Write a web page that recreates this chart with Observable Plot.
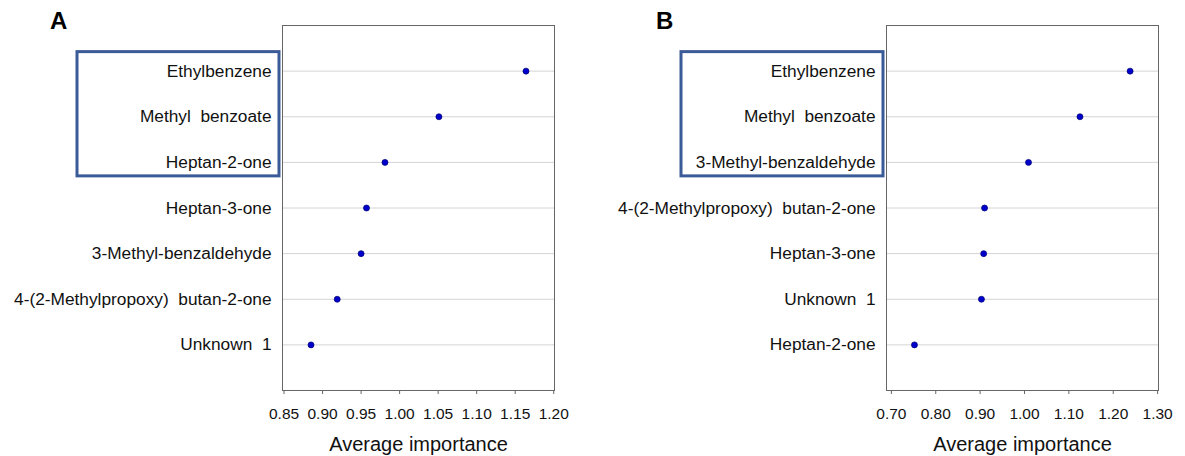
<!DOCTYPE html>
<html><head><meta charset="utf-8">
<script src="https://cdn.jsdelivr.net/npm/d3@7"></script>
<script src="https://cdn.jsdelivr.net/npm/@observablehq/plot@0.6"></script>
<style>
html,body{margin:0;padding:0;background:#fff;overflow:hidden}
#wrap{position:relative;width:1185px;height:456px;font-family:"Liberation Sans",Arial,sans-serif}
.panel{position:absolute;top:0}
</style></head><body><div id="wrap"></div>
<script>
// Panel A
const compoundsA = ["Ethylbenzene", "Methyl\u00a0 benzoate", "Heptan-2-one", "Heptan-3-one", "3-Methyl-benzaldehyde", "4-(2-Methylpropoxy)\u00a0 butan-2-one", "Unknown\u00a0 1"];
const importanceA = [1.164, 1.051, 0.981, 0.957, 0.950, 0.919, 0.885];
const ticksA = [0.85, 0.90, 0.95, 1.00, 1.05, 1.10, 1.15, 1.20];
const domainA = [0.848, 1.201];
// Panel B
const compoundsB = ["Ethylbenzene", "Methyl\u00a0 benzoate", "3-Methyl-benzaldehyde", "4-(2-Methylpropoxy)\u00a0 butan-2-one", "Heptan-3-one", "Unknown\u00a0 1", "Heptan-2-one"];
const importanceB = [1.238, 1.125, 1.009, 0.910, 0.908, 0.903, 0.752];
const ticksB = [0.70, 0.80, 0.90, 1.00, 1.10, 1.20, 1.30];
const domainB = [0.689, 1.302];
const highlightCount = 3;
const xLabel = "Average importance";

function panel({letter, names, values, ticks, domain, left, width, marginLeft, marginRight}) {
  const data = names.map((n, i) => ({name: n, value: values[i]}));
  const plot = Plot.plot({
    width, height: 456,
    marginLeft, marginRight, marginTop: 25, marginBottom: 66,
    style: {fontFamily: '"Liberation Sans", Arial, sans-serif', color: "#111", background: "#fff", overflow: "visible"},
    x: {domain, ticks, tickFormat: d3.format(".2f")},
    y: {type: "point", domain: names, padding: 1, round: false},
    marks: [
      Plot.gridY({stroke: "#d4d4d4", strokeOpacity: 1, strokeWidth: 1}),
      Plot.frame({stroke: "#666", strokeWidth: 1}),
      Plot.axisX({ticks, tickFormat: d3.format(".2f"), tickSize: 4, tickPadding: 13, fontSize: 15.5, stroke: "#666", fill: "#111", label: null}),
      Plot.axisY({tickSize: 0, tickPadding: 11, fontSize: 17.3, fill: "#111", label: null}),
      Plot.text([xLabel], {frameAnchor: "bottom", dy: 54, lineAnchor: "middle", fontSize: 20, fill: "#111"}),
      Plot.dot(data, {x: "value", y: "name", r: 3, fill: "#0000cc", stroke: "#000070", strokeWidth: 0.7})
    ]
  });
  plot.classList.add("panel");
  plot.style.left = left + "px";
  const svg = d3.select(plot);
  const y = plot.scale("y");
  const top = y.apply(names[0]) - 19;
  const bottom = y.apply(names[highlightCount - 1]) + 14;
  svg.append("rect")
    .attr("x", marginLeft - 205).attr("width", 202)
    .attr("y", top).attr("height", bottom - top)
    .attr("fill", "none").attr("stroke", "#3b5b98").attr("stroke-width", 3);
  svg.append("text").text(letter)
    .attr("x", letter === "A" ? 50 : 656 - left).attr("y", 29)
    .attr("text-anchor", "start")
    .attr("font-size", 24).attr("font-weight", "bold").attr("fill", "#000");
  document.getElementById("wrap").appendChild(plot);
}

panel({letter: "A", names: compoundsA, values: importanceA, ticks: ticksA, domain: domainA, left: 0, width: 592, marginLeft: 282, marginRight: 38});
panel({letter: "B", names: compoundsB, values: importanceB, ticks: ticksB, domain: domainB, left: 592, width: 593, marginLeft: 294, marginRight: 27});
</script></body></html>
